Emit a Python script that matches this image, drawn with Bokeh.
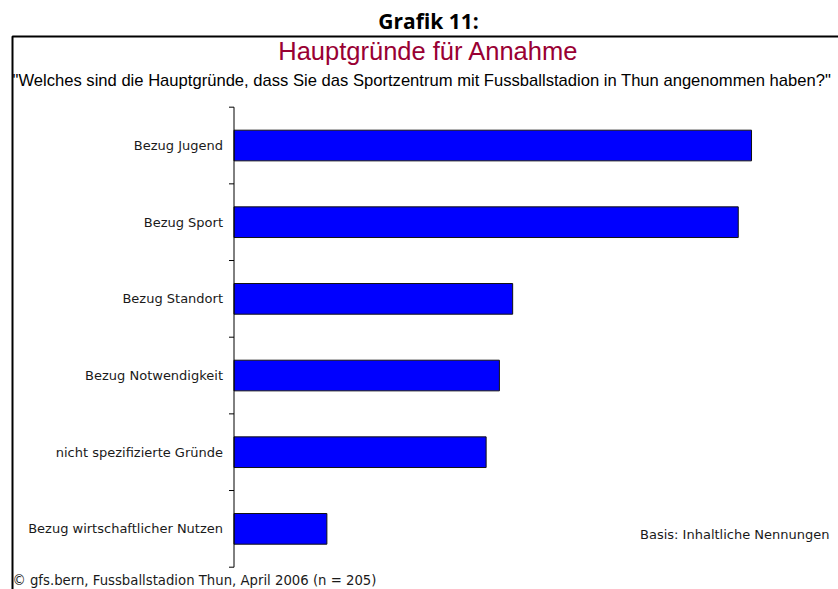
import math
from bokeh.plotting import figure
from bokeh.models import ColumnDataSource, Range1d, Label, BoxAnnotation
from bokeh.core.properties import value
from bokeh.embed import file_html
from bokeh.resources import INLINE

# ---- data ----
categories = ["Bezug Jugend", "Bezug Sport", "Bezug Standort",
              "Bezug Notwendigkeit", "nicht spezifizierte Gründe",
              "Bezug wirtschaftlicher Nutzen"]
values = [39, 38, 21, 20, 19, 7]

super_title = "Grafik 11:"
title = "Hauptgründe für Annahme"
subtitle = ('"Welches sind die Hauptgründe, dass Sie das Sportzentrum mit '
            'Fussballstadion in Thun angenommen haben?"')
basis = "Basis: Inhaltliche Nennungen"
footer = "© gfs.bern, Fussballstadion Thun, April 2006 (n = 205)"

# ---- geometry (canvas pixels) ----
W, H = 838, 589
X0 = 233.5          # pixel of value 0 (category axis)
PXU = 13.27         # pixels per value unit
Y0 = 566.7          # pixel of the bottom category boundary
BAND = 76.67        # pixels per category band
N = len(categories)


def dx(px):
    return (px - X0) / PXU


def dy(py):
    return (Y0 - py) / BAND


ypos = [N - i - 0.5 for i in range(N)]
bounds = list(range(N + 1))
src = ColumnDataSource(dict(y=ypos, v=values, cat=categories))
tick_src = ColumnDataSource(dict(y=bounds, x=[0] * len(bounds)))

p = figure(width=W, height=H, output_backend="svg", toolbar_location=None,
           x_range=Range1d(dx(0), dx(W)), y_range=Range1d(dy(H), dy(0)),
           x_axis_location=None, y_axis_location=None, min_border=0)
p.outline_line_color = None
p.grid.visible = False
p.background_fill_color = "white"
p.border_fill_color = "white"

# bars
p.hbar(y="y", left=0, right="v", height=0.4, source=src,
       fill_color="#0000FF", line_color="#111111", line_width=1)

# category axis: line, ticks at band boundaries, labels at band centres
p.segment(x0=0, y0=0, x1=0, y1=N, line_color="black", line_width=1)
p.ray(x="x", y="y", length=5, length_units="screen", angle=math.pi,
      source=tick_src, line_color="black", line_width=1)
p.text(x=0, y="y", text="cat", source=src, x_offset=-11,
       text_align="right", text_baseline="middle",
       text_font=value("DejaVu Sans"), text_font_size=value("13px"),
       text_color="#1a1a1a")

# outer frame
p.add_layout(BoxAnnotation(left=dx(12), right=dx(1000), top=dy(36),
                           bottom=dy(900), fill_alpha=0, fill_color=None,
                           line_color="black", line_alpha=1.0,
                           line_width=2))

p.add_layout(Label(x=dx(428), y=dy(20), text=super_title, text_align="center",
                   text_baseline="alphabetic", text_font="Open Sans",
                   text_font_style="bold", text_font_size="21px",
                   text_color="black"))
p.add_layout(Label(x=dx(428), y=dy(50), text=title, text_align="center",
                   text_baseline="alphabetic", text_font="Liberation Sans",
                   text_font_size="25.5px", text_color="#990033"))
p.add_layout(Label(x=dx(12), y=dy(80), text=subtitle, text_align="left",
                   text_baseline="alphabetic", text_font="Liberation Sans",
                   text_font_size="16.6px", text_color="black"))
p.add_layout(Label(x=dx(829), y=dy(534), text=basis, text_align="right",
                   text_baseline="alphabetic", text_font="DejaVu Sans",
                   text_font_size="13px", text_color="#1a1a1a"))
p.add_layout(Label(x=dx(12), y=dy(580), text=footer, text_align="left",
                   text_baseline="alphabetic", text_font="DejaVu Sans",
                   text_font_size="13.25px", text_color="#1a1a1a"))

open("out.html", "w").write(file_html(p, INLINE))
